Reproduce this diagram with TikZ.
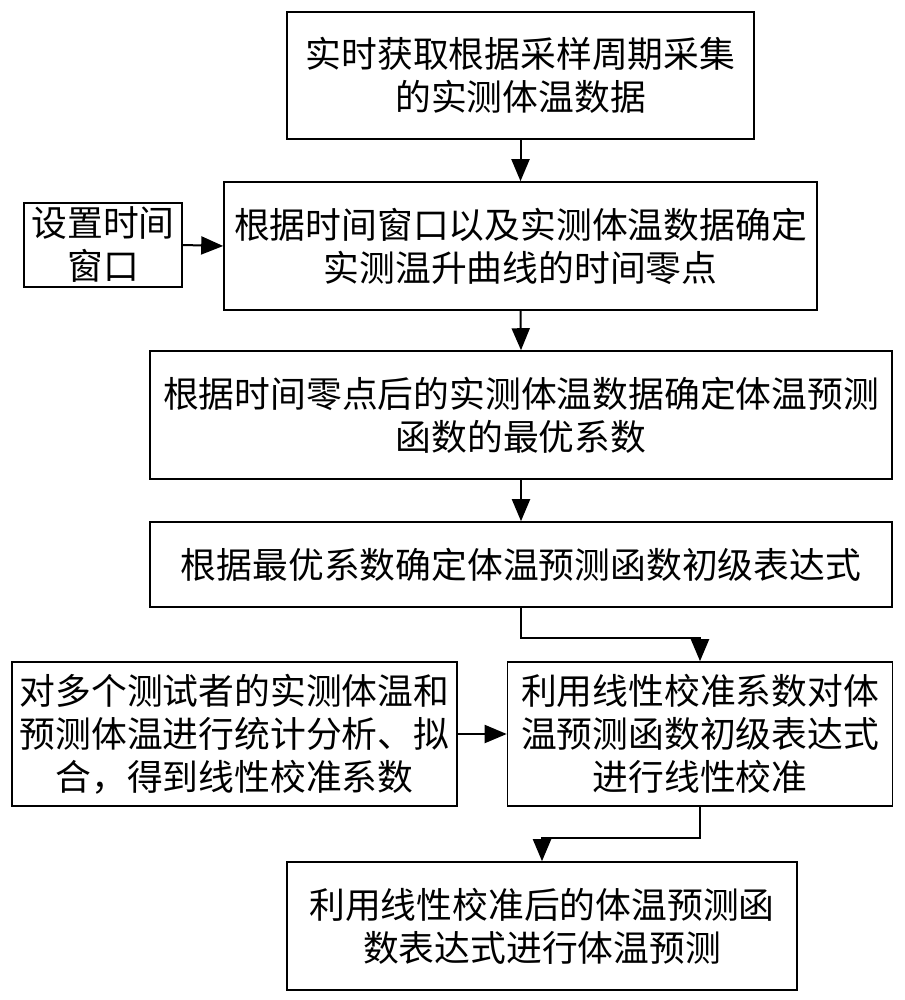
\documentclass[tikz,border=0pt]{standalone}
\usepackage{fontspec}
\setmainfont{Noto Sans CJK SC}
\usetikzlibrary{arrows.meta}
\begin{document}
\begin{tikzpicture}[x=1pt,y=-1pt,
  box/.style={draw=black,line width=1.6pt,inner sep=0pt,align=center,
    font=\fontsize{35.8pt}{43pt}\selectfont},
  arr/.style={draw=black,line width=2pt,-{Triangle[length=22pt,width=18pt]}}]
\useasboundingbox[fill=white] (0,0) rectangle (904,1000);
\node[box,minimum width=467pt,minimum height=127pt] (b1) at (520.5,75.5)
  {实时获取根据采样周期采集\\的实测体温数据};
\node[box,minimum width=593pt,minimum height=128pt] (b2) at (520.5,246)
  {根据时间窗口以及实测体温数据确定\\实测温升曲线的时间零点};
\node[box,minimum width=158pt,minimum height=84pt] (win) at (103,245)
  {设置时间\\窗口};
\node[box,minimum width=742pt,minimum height=128pt] (b3) at (521,415)
  {根据时间零点后的实测体温数据确定体温预测\\函数的最优系数};
\node[box,minimum width=742pt,minimum height=85pt] (b4) at (521,564.5)
  {根据最优系数确定体温预测函数初级表达式};
\node[box,minimum width=385pt,minimum height=144pt] (b5) at (700,734)
  {利用线性校准系数对体\\温预测函数初级表达式\\进行线性校准};
\node[box,minimum width=445pt,minimum height=144pt] (b6) at (234.5,734)
  {对多个测试者的实测体温和\\预测体温进行统计分析、拟\\合，得到线性校准系数};
\node[box,minimum width=510pt,minimum height=128pt] (b7) at (542,926)
  {利用线性校准后的体温预测函\\数表达式进行体温预测};
\draw[arr] (b1.south) -- (b2.north);
\draw[arr] (win.east) -- (b2.west);
\draw[arr] (b2.south) -- (b3.north);
\draw[arr] (b3.south) -- (b4.north);
\draw[arr] (b4.south) -- ++(0,30) -| (b5.north);
\draw[arr] (b6.east) -- (b5.west);
\draw[arr] (b5.south) -- ++(0,31) -| (b7.north);
\end{tikzpicture}
\end{document}
